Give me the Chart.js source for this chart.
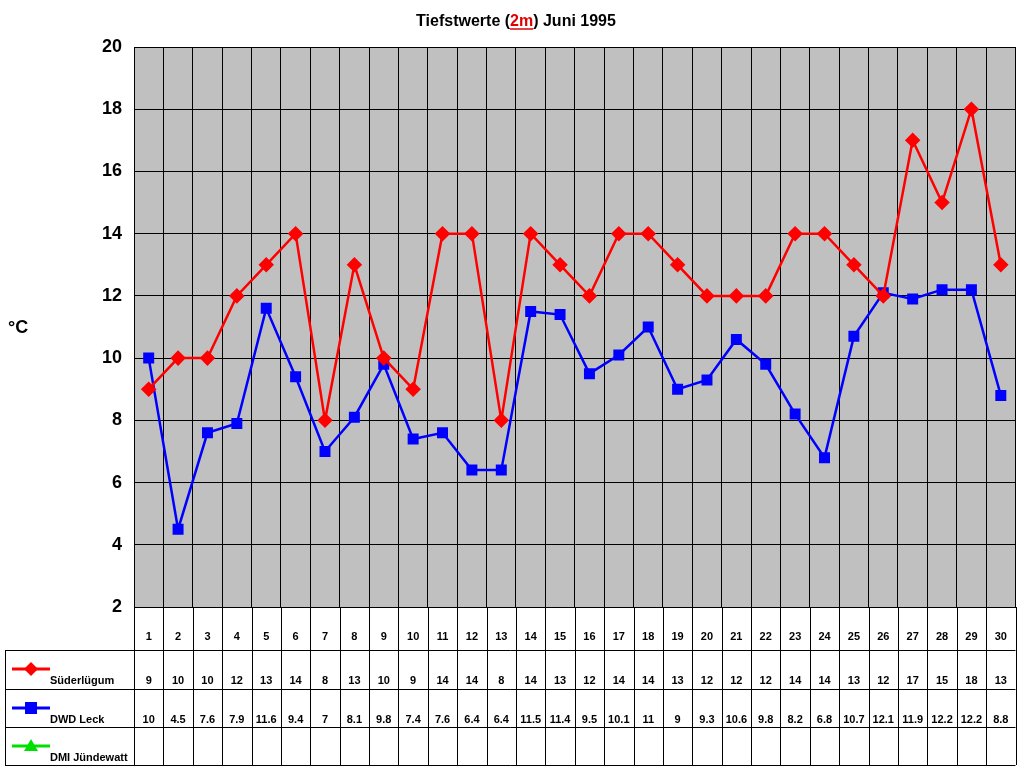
<!DOCTYPE html>
<html>
<head>
<meta charset="utf-8">
<script src="https://cdn.jsdelivr.net/npm/chart.js@4"></script>
<style>body{margin:0;background:#fff}</style>
</head>
<body>
<canvas id="c" width="1024" height="768"></canvas>
<script>
const days = ['1','2','3','4','5','6','7','8','9','10','11','12','13','14','15','16','17','18','19','20','21','22','23','24','25','26','27','28','29','30'];
const suederluegum = [9,10,10,12,13,14,8,13,10,9,14,14,8,14,13,12,14,14,13,12,12,12,14,14,13,12,17,15,18,13];
const dwdLeck = [10,4.5,7.6,7.9,11.6,9.4,7,8.1,9.8,7.4,7.6,6.4,6.4,11.5,11.4,9.5,10.1,11,9,9.3,10.6,9.8,8.2,6.8,10.7,12.1,11.9,12.2,12.2,8.8];
const dmiJuendewatt = [];
const seriesNames = ['Süderlügum', 'DWD Leck', 'DMI Jündewatt'];

const FONT = '"Liberation Sans", Arial, sans-serif';

// background, title, °C label and data table
const decor = {
    id: 'decor',
    beforeDraw(chart) {
        const ctx = chart.ctx, a = chart.chartArea;
        ctx.save();
        ctx.fillStyle = '#fff';
        ctx.fillRect(0, 0, chart.width, chart.height);
        ctx.fillStyle = '#c0c0c0';
        ctx.fillRect(a.left, a.top, a.right - a.left, a.bottom - a.top);
        ctx.restore();
    },
    afterDraw(chart) {
        const ctx = chart.ctx, a = chart.chartArea, x = chart.scales.x;
        ctx.save();
        // title
        ctx.font = 'bold 16px ' + FONT;
        ctx.textBaseline = 'alphabetic';
        const parts = [['Tiefstwerte (', '#000'], ['2m', '#e00000'], [') Juni 1995', '#000']];
        let total = parts.reduce((s, p) => s + ctx.measureText(p[0]).width, 0);
        let tx = 516 - total / 2;
        parts.forEach(p => {
            ctx.fillStyle = p[1];
            ctx.fillText(p[0], tx, 26);
            const w = ctx.measureText(p[0]).width;
            if (p[0] === '2m') {
                ctx.strokeStyle = p[1]; ctx.lineWidth = 1.5;
                ctx.beginPath(); ctx.moveTo(tx, 29); ctx.lineTo(tx + w, 29); ctx.stroke();
            }
            tx += w;
        });
        ctx.fillStyle = '#000';
        ctx.font = 'bold 18px ' + FONT;
        ctx.fillText('°C', 8, 333);

        // table
        const rows = [607, 650, 689, 727, 765];
        const step = (a.right - a.left) / days.length;
        ctx.strokeStyle = '#000'; ctx.lineWidth = 1;
        ctx.beginPath();
        rows.forEach((r, i) => {
            ctx.moveTo(i === 0 ? a.left : 5, r + 0.5); ctx.lineTo(a.right, r + 0.5);
        });
        for (let i = 0; i <= days.length; i++) {
            const gx = Math.round(a.left + i * step) + 0.5;
            ctx.moveTo(gx, rows[0]); ctx.lineTo(gx, rows[4]);
        }
        ctx.moveTo(5.5, rows[1]); ctx.lineTo(5.5, rows[4]);
        ctx.stroke();

        ctx.font = 'bold 11px ' + FONT;
        ctx.textAlign = 'center';
        days.forEach((d, i) => ctx.fillText(d, x.getPixelForValue(i), 640));
        const rowData = [suederluegum, dwdLeck, dmiJuendewatt];
        rowData.forEach((vals, r) => {
            vals.forEach((v, i) => ctx.fillText(String(v), x.getPixelForValue(i), rows[r + 1] + 34));
        });
        // legend keys
        const colors = ['#ff0000', '#0000ff', '#00e000'];
        ctx.textAlign = 'left';
        seriesNames.forEach((n, r) => {
            const ly = rows[r + 1] + 19;
            ctx.strokeStyle = colors[r]; ctx.fillStyle = colors[r]; ctx.lineWidth = 3;
            ctx.beginPath(); ctx.moveTo(12, ly); ctx.lineTo(50, ly); ctx.stroke();
            ctx.beginPath();
            if (r === 0) { ctx.moveTo(31, ly - 7); ctx.lineTo(38, ly); ctx.lineTo(31, ly + 7); ctx.lineTo(24, ly); }
            else if (r === 1) { ctx.rect(25, ly - 6, 12, 12); }
            else { ctx.moveTo(31, ly - 7); ctx.lineTo(38, ly + 5); ctx.lineTo(24, ly + 5); }
            ctx.closePath(); ctx.fill();
            ctx.fillStyle = '#000';
            ctx.fillText(n, 50, rows[r + 1] + 34);
        });
        ctx.restore();
    }
};

new Chart(document.getElementById('c'), {
    type: 'line',
    data: {
        labels: days,
        datasets: [
            { label: seriesNames[0], data: suederluegum, borderColor: '#ff0000', backgroundColor: '#ff0000',
              borderWidth: 2.5, pointStyle: 'rectRot', pointRadius: 6, tension: 0 },
            { label: seriesNames[1], data: dwdLeck, borderColor: '#0000ff', backgroundColor: '#0000ff',
              borderWidth: 2.5, pointStyle: 'rect', pointRadius: 6, tension: 0 }
        ]
    },
    options: {
        responsive: false,
        devicePixelRatio: 1,
        animation: false,
        layout: { padding: { top: 47, bottom: 161, right: 5, left: 0 } },
        plugins: { legend: { display: false }, tooltip: { enabled: false } },
        scales: {
            x: {
                display: true,
                offset: true,
                ticks: { display: false },
                grid: { offset: true, color: '#000', drawTicks: false },
                border: { color: '#000' }
            },
            y: {
                min: 2, max: 20,
                afterFit(s) { s.width = 134; },
                ticks: { stepSize: 2, color: '#000', font: { family: FONT, size: 18, weight: 'bold' }, padding: 12 },
                grid: { color: '#000', drawTicks: false },
                border: { color: '#000' }
            }
        }
    },
    plugins: [decor]
});
</script>
</body>
</html>
